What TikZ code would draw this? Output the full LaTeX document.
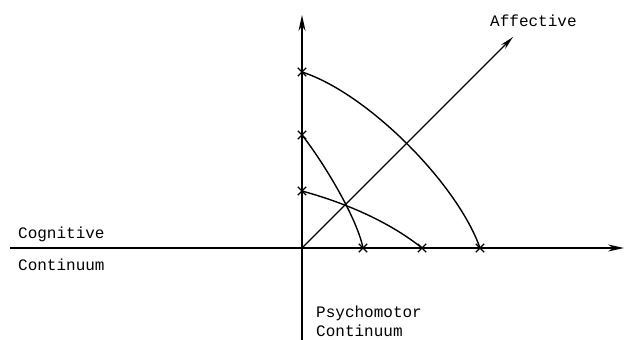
\documentclass[tikz,border=0pt]{standalone}
\usepackage{fontspec}
\newfontfamily\tw{Liberation Mono}
\usetikzlibrary{arrows.meta,shapes.misc}
\tikzset{
  axis/.style={line width=1.8pt,-{Stealth[length=16pt,width=7pt]}},
  curve/.style={line width=1.4pt},
  xmark/.style={cross out,draw,line width=1.3pt,minimum size=7pt,inner sep=0pt},
  lbl/.style={font=\tw\fontsize{16}{17}\selectfont,anchor=base west,inner sep=0pt}
}
\begin{document}
\begin{tikzpicture}[x=1pt,y=-1pt]
\useasboundingbox (0,0) rectangle (630,340);
\coordinate (O) at (302,248);
\coordinate (xl) at (10,248);
\coordinate (xr) at (624,248);
\coordinate (yb) at (302,340);
\coordinate (yt) at (302,15);
\coordinate (dt) at (513,37);
\draw[axis] (xl) -- (xr);
\draw[axis] (yb) -- (yt);
\draw[line width=1.4pt,-{Stealth[length=14pt,width=6pt]}] (O) -- (dt);
% marks
\node[xmark] (v1) at (302,72) {};
\node[xmark] (v2) at (302,135) {};
\node[xmark] (v3) at (302,191) {};
\node[xmark] (h1) at (363,248) {};
\node[xmark] (h2) at (422,248) {};
\node[xmark] (h3) at (480,248) {};
% curves
\draw[curve] (v1.center) .. controls (367,93) and (457,183) .. (h3.center);
\draw[curve] (v2.center) .. controls (324,163) and (357,218) .. (h1.center);
\draw[curve] (v3.center) .. controls (342,202) and (387,220) .. (h2.center);
% labels
\node[lbl] (aff) at (490,27) {Affective};
\node[lbl] (cog) at (18,238) {Cognitive};
\node[lbl] (con1) at (18,270) {Continuum};
\node[lbl] (psy) at (316,317) {Psychomotor};
\node[lbl] (con2) at (316,336) {Continuum};
\end{tikzpicture}
\end{document}
